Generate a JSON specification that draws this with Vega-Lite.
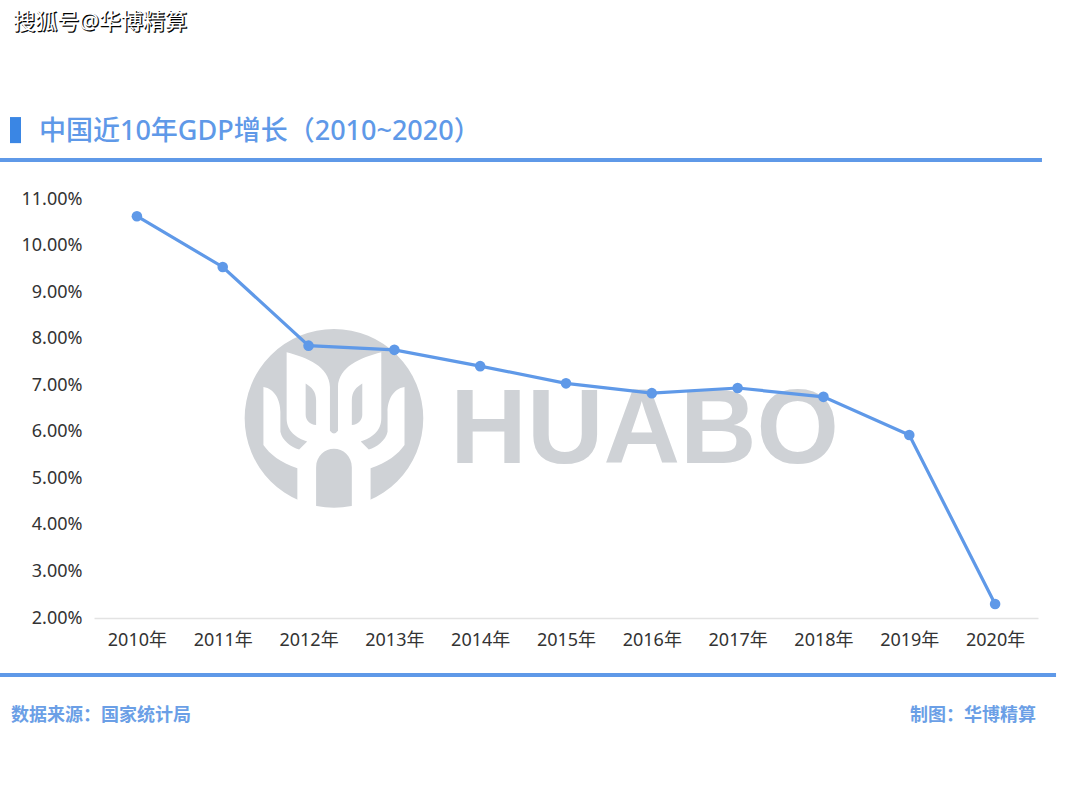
{
  "$schema": "https://vega.github.io/schema/vega-lite/v6.json",
  "description": "中国近10年GDP增长（2010~2020）",
  "autosize": "none",
  "width": 944,
  "height": 419,
  "padding": {"left": 94, "top": 199, "right": 42, "bottom": 192},
  "background": "white",
  "config": {"view": {"stroke": null}, "font": "Noto Sans, Noto Sans CJK SC"},
  "encoding": {
    "y": {
      "field": "value",
      "type": "quantitative",
      "title": null,
      "scale": {"domain": [0.02, 0.11], "nice": false, "zero": false},
      "axis": {
        "values": [0.02, 0.03, 0.04, 0.05, 0.06, 0.07, 0.08, 0.09, 0.1, 0.11],
        "format": ".2%",
        "domain": false,
        "ticks": false,
        "grid": false,
        "labelFont": "Noto Sans, Noto Sans CJK SC",
        "labelFontSize": 18,
        "labelColor": "#333333",
        "labelPadding": 12
      }
    }
  },
  "layer": [
    {
      "data": {"values": [{"pos": 0.2542, "value": 0.06289}]},
      "mark": {"type": "point", "shape": "circle", "filled": true, "opacity": 1, "size": 31900, "color": "#cfd2d6"},
      "encoding": {"x": {"field": "pos", "type": "quantitative", "scale": {"domain": [0, 1]}, "axis": null}}
    },
    {
      "data": {"values": [{"pos": 0.2542, "value": 0.06289}]},
      "mark": {
        "type": "point",
        "filled": true,
        "opacity": 1,
        "size": 31900,
        "color": "white",
        "shape": "M-0.41 1.01 L-0.41 0.56 C-0.6 0.5 -0.72 0.4 -0.79 0.3 L-0.79 -0.35 C-0.66 -0.33 -0.6 -0.2 -0.6 -0.07 L-0.6 0.15 C-0.58 0.25 -0.48 0.32 -0.39 0.35 L-0.3 0.26 C-0.42 0.22 -0.53 0.15 -0.53 0 L-0.53 -0.74 C-0.3 -0.68 -0.05 -0.58 -0.045 -0.35 L-0.045 0.14 Q0 0.2 0.045 0.14 L0.045 -0.35 C0.05 -0.58 0.3 -0.68 0.53 -0.74 L0.53 0 C0.53 0.15 0.42 0.22 0.3 0.26 L0.39 0.35 C0.48 0.32 0.58 0.25 0.6 0.15 L0.6 -0.07 C0.6 -0.2 0.66 -0.33 0.79 -0.35 L0.79 0.3 C0.72 0.4 0.6 0.5 0.41 0.56 L0.41 1.01 L0.2 1.01 L0.2 0.55 C0.2 0.42 0.1 0.34 0 0.34 C-0.1 0.34 -0.2 0.42 -0.2 0.55 L-0.2 1.01 Z"
      },
      "encoding": {"x": {"field": "pos", "type": "quantitative", "scale": {"domain": [0, 1]}, "axis": null}}
    },
    {
      "data": {"values": [{"pos": 0.2542, "value": 0.06289}]},
      "mark": {
        "type": "point",
        "filled": true,
        "opacity": 1,
        "size": 31900,
        "color": "#cfd2d6",
        "shape": "M-0.317 -0.39 C-0.25 -0.35 -0.2 -0.3 -0.2 -0.2 L-0.2 0.075 C-0.27 0.07 -0.317 0.02 -0.317 -0.04 Z M0.317 -0.39 C0.25 -0.35 0.2 -0.3 0.2 -0.2 L0.2 0.075 C0.27 0.07 0.317 0.02 0.317 -0.04 Z"
      },
      "encoding": {"x": {"field": "pos", "type": "quantitative", "scale": {"domain": [0, 1]}, "axis": null}}
    },
    {
      "data": {"values": [{"pos": 0.3775, "value": 0.0533, "label": "HUABO"}]},
      "mark": {"type": "text", "align": "left", "baseline": "alphabetic", "font": "Liberation Sans", "fontWeight": "bold", "fontSize": 106, "color": "#cfd2d6"},
      "encoding": {
        "x": {"field": "pos", "type": "quantitative", "scale": {"domain": [0, 1]}, "axis": null},
        "text": {"field": "label"}
      }
    },
    {
      "data": {
        "values": [
          {"year": "2010年", "value": 0.1063},
          {"year": "2011年", "value": 0.0954},
          {"year": "2012年", "value": 0.0785},
          {"year": "2013年", "value": 0.0776},
          {"year": "2014年", "value": 0.0741},
          {"year": "2015年", "value": 0.0704},
          {"year": "2016年", "value": 0.0683},
          {"year": "2017年", "value": 0.0694},
          {"year": "2018年", "value": 0.0675},
          {"year": "2019年", "value": 0.0593},
          {"year": "2020年", "value": 0.023}
        ]
      },
      "mark": {
        "type": "line",
        "color": "#5f99e8",
        "strokeWidth": 3.2,
        "point": {"filled": true, "size": 112, "color": "#5f99e8", "opacity": 1}
      },
      "encoding": {
        "x": {
          "field": "year",
          "type": "ordinal",
          "title": null,
          "scale": {"paddingInner": 0, "paddingOuter": 0.5},
          "axis": {
            "labelAngle": 0,
            "labelFont": "Noto Sans, Noto Sans CJK SC",
            "labelFontSize": 18,
            "labelColor": "#333333",
            "labelPadding": 13,
            "ticks": false,
            "grid": false,
            "domainColor": "#e3e3e3",
            "domainWidth": 1.5
          }
        }
      }
    },
    {
      "data": {
        "values": [
          {"pos": -0.0996, "pos2": 1.0042, "value": 0.1184},
          {"pos": -0.0996, "pos2": 1.0191, "value": 0.00776}
        ]
      },
      "mark": {"type": "rule", "color": "#5f99e8", "strokeWidth": 4},
      "encoding": {
        "x": {"field": "pos", "type": "quantitative", "scale": {"domain": [0, 1]}, "axis": null},
        "x2": {"field": "pos2"}
      }
    },
    {
      "data": {"values": [{"pos": -0.089, "pos2": -0.0773, "value": 0.1276, "value2": 0.122}]},
      "mark": {"type": "rect", "color": "#3a86e4"},
      "encoding": {
        "x": {"field": "pos", "type": "quantitative", "scale": {"domain": [0, 1]}, "axis": null},
        "x2": {"field": "pos2"},
        "y2": {"field": "value2"}
      }
    },
    {
      "data": {"values": [{"pos": -0.0583, "value": 0.1244, "label": "中国近10年GDP增长（2010~2020）"}]},
      "mark": {"type": "text", "align": "left", "baseline": "middle", "fontSize": 27, "fontWeight": 500, "color": "#5f99e8"},
      "encoding": {
        "x": {"field": "pos", "type": "quantitative", "scale": {"domain": [0, 1]}, "axis": null},
        "text": {"field": "label"}
      }
    },
    {
      "data": {"values": [{"pos": -0.0879, "value": -0.00105, "label": "数据来源：国家统计局"}]},
      "mark": {"type": "text", "align": "left", "baseline": "middle", "fontSize": 18, "fontWeight": "bold", "color": "#6b9fe6"},
      "encoding": {
        "x": {"field": "pos", "type": "quantitative", "scale": {"domain": [0, 1]}, "axis": null},
        "text": {"field": "label"}
      }
    },
    {
      "data": {"values": [{"pos": 0.9979, "value": -0.00105, "label": "制图：华博精算"}]},
      "mark": {"type": "text", "align": "right", "baseline": "middle", "fontSize": 18, "fontWeight": "bold", "color": "#6b9fe6"},
      "encoding": {
        "x": {"field": "pos", "type": "quantitative", "scale": {"domain": [0, 1]}, "axis": null},
        "text": {"field": "label"}
      }
    },
    {
      "data": {"values": [{"pos": -0.0855, "value": 0.148, "label": "搜狐号@华博精算"}]},
      "mark": {"type": "text", "align": "left", "baseline": "middle", "fontSize": 22, "color": "#000000", "stroke": "#000000", "strokeWidth": 0.5, "dx": 1, "dy": 1},
      "encoding": {
        "x": {"field": "pos", "type": "quantitative", "scale": {"domain": [0, 1]}, "axis": null},
        "text": {"field": "label"}
      }
    },
    {
      "data": {"values": [{"pos": -0.0855, "value": 0.148, "label": "搜狐号@华博精算"}]},
      "mark": {"type": "text", "align": "left", "baseline": "middle", "fontSize": 22, "color": "white"},
      "encoding": {
        "x": {"field": "pos", "type": "quantitative", "scale": {"domain": [0, 1]}, "axis": null},
        "text": {"field": "label"}
      }
    }
  ],
  "resolve": {"scale": {"x": "independent"}, "axis": {"x": "independent"}}
}
